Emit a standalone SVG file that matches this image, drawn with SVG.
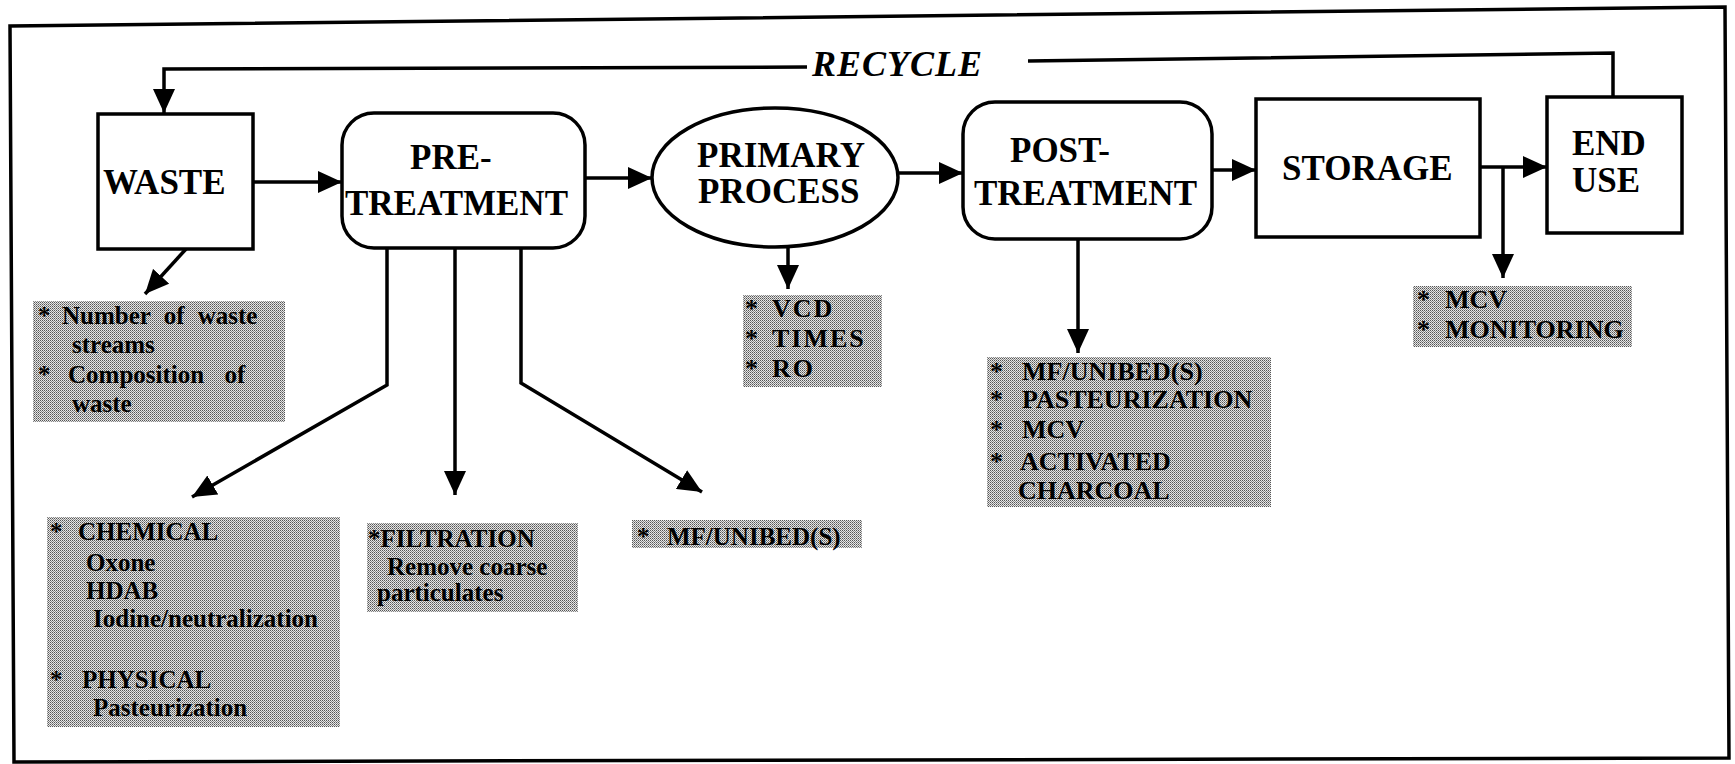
<svg xmlns="http://www.w3.org/2000/svg" width="1735" height="764" viewBox="0 0 1735 764" font-family="Liberation Serif, Times New Roman, serif">
<style>
.box{fill:#fff;stroke:#000;stroke-width:3.5}
.ln{fill:none;stroke:#000;stroke-width:3.5;stroke-linejoin:miter}
.ar{marker-end:url(#ah)}
text{font-weight:700;fill:#000}
.t{font-size:35px}
.n{font-size:25px}
.nb{font-size:26px}
.big{font-size:26px;letter-spacing:2px}
.g{fill:url(#dots)}
</style>
<defs>
<pattern id="dots" width="2" height="2" patternUnits="userSpaceOnUse">
<rect width="2" height="2" fill="#e6e6e6"/>
<rect width="1" height="1" fill="#555"/>
<rect x="1" y="1" width="1" height="1" fill="#8a8a8a"/>
</pattern>
<marker id="ah" markerUnits="userSpaceOnUse" markerWidth="24" markerHeight="22" refX="24" refY="11" orient="auto">
<path d="M0,0 L24,11 L0,22 Z" fill="#000"/>
</marker>
</defs>

<polygon id="frame" points="10,26 1725,7 1729,758 14,762" fill="none" stroke="#000" stroke-width="3.5"/>

<g id="connectors">
<polyline class="ln ar" points="807,67 164,69 164,113"/>
<polyline class="ln" points="1028,61 1613,53 1613,97"/>
<line class="ln ar" x1="253" y1="182" x2="342" y2="182"/>
<line class="ln ar" x1="585" y1="178" x2="652" y2="178"/>
<line class="ln ar" x1="898" y1="173" x2="963" y2="173"/>
<line class="ln ar" x1="1212" y1="170" x2="1256" y2="170"/>
<line class="ln ar" x1="1480" y1="167" x2="1547" y2="167"/>
<line class="ln ar" x1="1503" y1="167" x2="1503" y2="278"/>
<line class="ln ar" x1="186" y1="249" x2="145" y2="294"/>
<polyline class="ln ar" points="387,248 387,385 192,497"/>
<line class="ln ar" x1="455" y1="248" x2="455" y2="495"/>
<polyline class="ln ar" points="521,248 521,383 702,492"/>
<line class="ln ar" x1="788" y1="247" x2="788" y2="289"/>
<line class="ln ar" x1="1078" y1="239" x2="1078" y2="353"/>
</g>

<g id="recycle-label">
<text font-family="Liberation Serif, serif" x="812" y="76" font-style="italic" font-size="36" letter-spacing="1">RECYCLE</text>
</g>

<g id="waste">
<rect class="box" x="98" y="114" width="155" height="135"/>
<text font-family="Liberation Serif, serif" class="t" x="103" y="194">WASTE</text>
</g>

<g id="pretreatment">
<rect class="box" x="342" y="113" width="243" height="135" rx="32" ry="32"/>
<text font-family="Liberation Serif, serif" class="t" x="410" y="169">PRE-</text>
<text font-family="Liberation Serif, serif" class="t" x="345" y="215">TREATMENT</text>
</g>

<g id="primary">
<ellipse class="box" cx="775" cy="177.5" rx="123" ry="69.5"/>
<text font-family="Liberation Serif, serif" class="t" x="697" y="167">PRIMARY</text>
<text font-family="Liberation Serif, serif" class="t" x="698" y="203">PROCESS</text>
</g>

<g id="posttreatment">
<rect class="box" x="963" y="102" width="249" height="137" rx="32" ry="32"/>
<text font-family="Liberation Serif, serif" class="t" x="1010" y="162">POST-</text>
<text font-family="Liberation Serif, serif" class="t" x="974" y="205">TREATMENT</text>
</g>

<g id="storage">
<rect class="box" x="1256" y="99" width="224" height="138"/>
<text font-family="Liberation Serif, serif" class="t" x="1282" y="180">STORAGE</text>
</g>

<g id="enduse">
<rect class="box" x="1547" y="97" width="135" height="136"/>
<text font-family="Liberation Serif, serif" class="t" x="1572" y="155">END</text>
<text font-family="Liberation Serif, serif" class="t" x="1572" y="192">USE</text>
</g>

<g id="waste-notes" font-family="Liberation Serif, serif">
<rect class="g" x="33" y="301" width="252" height="121"/>
<text class="n" x="38" y="324" word-spacing="7"><tspan>*</tspan><tspan x="62">Number of waste</tspan></text>
<text class="n" x="72" y="353">streams</text>
<text class="n" x="38" y="383" word-spacing="14"><tspan>*</tspan><tspan x="68">Composition of</tspan></text>
<text class="n" x="72" y="412">waste</text>
</g>

<g id="chemical-notes" font-family="Liberation Serif, serif">
<rect class="g" x="47" y="517" width="293" height="210"/>
<text class="n" x="50" y="540"><tspan>*</tspan><tspan x="78">CHEMICAL</tspan></text>
<text class="n" x="86" y="571">Oxone</text>
<text class="n" x="86" y="599">HDAB</text>
<text class="n" x="93" y="627">Iodine/neutralization</text>
<text class="n" x="50" y="688"><tspan>*</tspan><tspan x="82">PHYSICAL</tspan></text>
<text class="n" x="93" y="716">Pasteurization</text>
</g>

<g id="filtration-notes" font-family="Liberation Serif, serif">
<rect class="g" x="367" y="523" width="211" height="89"/>
<text class="n" x="368" y="547">*FILTRATION</text>
<text class="n" x="387" y="575">Remove coarse</text>
<text class="n" x="377" y="601">particulates</text>
</g>

<g id="mf-notes" font-family="Liberation Serif, serif">
<rect class="g" x="632" y="520" width="230" height="28"/>
<text class="n" x="637" y="545"><tspan>*</tspan><tspan x="667">MF/UNIBED(S)</tspan></text>
</g>

<g id="primary-notes" font-family="Liberation Serif, serif">
<rect class="g" x="743" y="295" width="139" height="92"/>
<text class="big" x="745" y="317"><tspan>*</tspan><tspan x="772">VCD</tspan></text>
<text class="big" x="745" y="347"><tspan>*</tspan><tspan x="772">TIMES</tspan></text>
<text class="big" x="745" y="377"><tspan>*</tspan><tspan x="772">RO</tspan></text>
</g>

<g id="post-notes" font-family="Liberation Serif, serif">
<rect class="g" x="987" y="357" width="284" height="150"/>
<text class="nb" x="990" y="380"><tspan>*</tspan><tspan x="1022">MF/UNIBED(S)</tspan></text>
<text class="nb" x="990" y="408"><tspan>*</tspan><tspan x="1022">PASTEURIZATION</tspan></text>
<text class="nb" x="990" y="438"><tspan>*</tspan><tspan x="1022">MCV</tspan></text>
<text class="nb" x="990" y="470"><tspan>*</tspan><tspan x="1020">ACTIVATED</tspan></text>
<text class="nb" x="1018" y="499">CHARCOAL</text>
</g>

<g id="storage-notes" font-family="Liberation Serif, serif">
<rect class="g" x="1413" y="286" width="219" height="61"/>
<text class="nb" x="1417" y="308"><tspan>*</tspan><tspan x="1445">MCV</tspan></text>
<text class="nb" x="1417" y="338"><tspan>*</tspan><tspan x="1445">MONITORING</tspan></text>
</g>
</svg>
